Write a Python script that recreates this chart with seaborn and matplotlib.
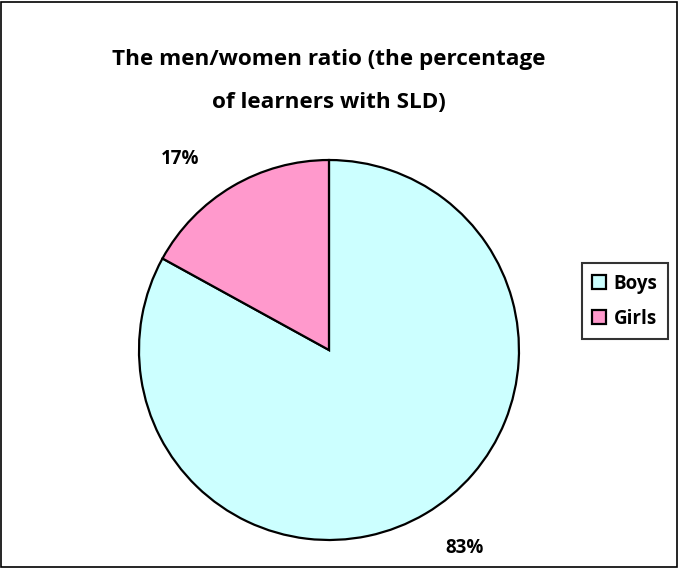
import matplotlib
matplotlib.use("Agg")
import matplotlib.pyplot as plt
import seaborn as sns
from matplotlib.patches import Rectangle

categories = ["Boys", "Girls"]
values = [83, 17]
colors = ["#CCFFFF", "#FF99CC"]
title = "The men/women ratio (the percentage\nof learners with SLD)"

sns.set_theme(style="white")
plt.rcParams['font.family'] = ['Open Sans', 'DejaVu Sans']
plt.rcParams['text.color'] = 'black'

fig = plt.figure(figsize=(6.79, 5.68), dpi=100)
fig.patches.append(Rectangle((0.002, 0.002), 0.995, 0.995, transform=fig.transFigure,
                             fill=False, edgecolor="black", linewidth=1.2))

ax = fig.add_axes([0.2047, 0.0493, 0.5596, 0.669])
wedges, texts = ax.pie(values, colors=colors, startangle=90, counterclock=False,
                       wedgeprops=dict(edgecolor="black", linewidth=1.6),
                       labels=[f"{v}%" for v in values], labeldistance=1.27,
                       textprops=dict(fontsize=13.5, fontweight="bold", color="black"))
# Excel-style label placement
pos = {"Boys": (0.716, -1.042), "Girls": (-0.784, 1.005)}
for t, c in zip(texts, categories):
    t.set_position(pos[c])
    t.set_ha("center")
    t.set_va("center")
    t.set_clip_on(False)
for w in wedges:
    w.set_clip_on(False)
ax.set_xlim(-1.0, 1.0)
ax.set_ylim(-1.0, 1.0)
ax.set_aspect("equal")

fig.text(0.4845, 0.857, title, ha="center", va="center", fontsize=16.2,
         fontweight="bold", linespacing=2.35, color="black")

leg = fig.legend(wedges, categories, loc="center", bbox_to_anchor=(0.920, 0.47),
                 frameon=True, fancybox=False, edgecolor="black",
                 prop=dict(size=13.5, weight="bold"), handlelength=0.75, handleheight=0.75,
                 handletextpad=0.4, labelspacing=0.8, borderpad=0.55)
leg.get_frame().set_linewidth(1.5)
for t in leg.get_texts():
    t.set_color("black")

fig.savefig("out.png", dpi=100)
